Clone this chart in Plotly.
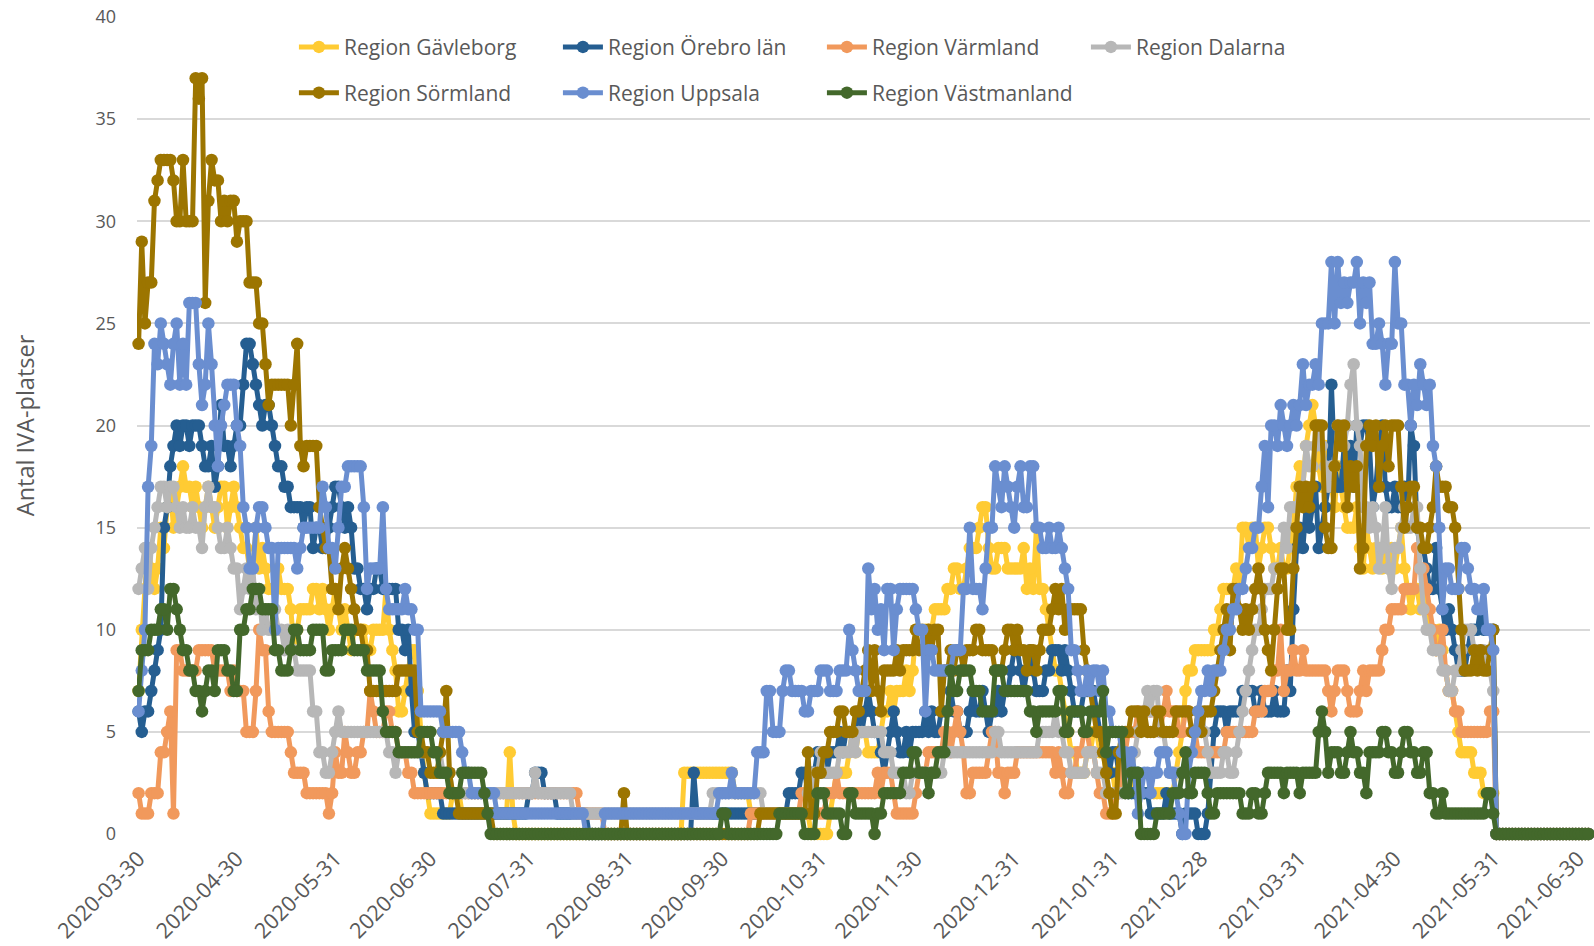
import plotly.graph_objects as go
import pandas as pd

start_date = "2020-03-30"

tick_dates = ["2020-03-30", "2020-04-30", "2020-05-31", "2020-06-30", "2020-07-31",
              "2020-08-31", "2020-09-30", "2020-10-31", "2020-11-30", "2020-12-31",
              "2021-01-31", "2021-02-28", "2021-03-31", "2021-04-30", "2021-05-31",
              "2021-06-30"]
y_ticks = [0, 5, 10, 15, 20, 25, 30, 35, 40]

series_names = ["Region Gävleborg", "Region Örebro län", "Region Värmland", "Region Dalarna",
                "Region Sörmland", "Region Uppsala", "Region Västmanland"]

# daily values from 2020-03-30 (one line per month)
gavleborg = [
    7, 10,
    12, 14, 13, 12, 13, 15, 14, 16, 17, 15, 16, 17, 18, 17, 17, 16, 17, 16, 15, 16, 17, 16, 15, 16, 17, 17, 15, 16, 17, 16,
    15, 14, 14, 13, 13, 15, 13, 14, 13, 12, 12, 12, 13, 12, 12, 12, 11, 9, 10, 11, 11, 11, 11, 12, 12, 11, 12, 11, 10, 11, 12,
    11, 10, 11, 10, 9, 10, 10, 10, 10, 9, 9, 10, 10, 10, 10, 12, 10, 9, 8, 6, 6, 7, 8, 9, 9, 7, 5, 3, 2, 1,
    1, 1, 1, 1, 1, 1, 2, 2, 2, 1, 1, 1, 1, 1, 1, 1, 1, 1, 1, 1, 1, 1, 1, 1, 4, 1, 0, 0, 0, 0, 0,
    0, 0, 0, 0, 0, 0, 0, 0, 0, 0, 0, 0, 0, 0, 0, 0, 0, 0, 0, 0, 0, 0, 0, 0, 0, 0, 0, 0, 0, 0, 0,
    0, 0, 0, 0, 0, 0, 0, 0, 0, 0, 0, 0, 0, 0, 0, 0, 0, 3, 3, 3, 3, 3, 3, 3, 3, 3, 3, 3, 3, 3,
    3, 3, 3, 2, 2, 2, 2, 2, 1, 1, 1, 1, 1, 1, 1, 1, 1, 1, 1, 1, 1, 1, 1, 1, 1, 1, 1, 0, 0, 0, 0,
    0, 0, 1, 2, 3, 3, 3, 3, 4, 5, 4, 5, 5, 5, 4, 4, 4, 4, 5, 6, 6, 7, 6, 7, 7, 7, 8, 7, 8, 10,
    10, 10, 10, 10, 10, 11, 11, 11, 11, 12, 12, 13, 13, 12, 12, 13, 14, 14, 14, 15, 16, 16, 14, 13, 13, 14, 14, 14, 13, 13, 13,
    13, 13, 14, 12, 13, 12, 15, 12, 12, 11, 10, 9, 8, 8, 7, 6, 5, 4, 4, 3, 3, 3, 4, 4, 5, 5, 4, 4, 3, 3, 3,
    2, 2, 3, 3, 3, 3, 2, 2, 2, 2, 2, 2, 2, 2, 2, 2, 2, 2, 2, 3, 4, 5, 7, 8, 8, 9, 9, 9,
    9, 9, 9, 10, 10, 11, 12, 12, 12, 12, 13, 12, 15, 15, 14, 15, 15, 13, 14, 15, 15, 14, 13, 13, 14, 13, 13, 14, 15, 17, 18,
    17, 19, 20, 21, 20, 18, 17, 19, 18, 17, 16, 18, 17, 16, 15, 15, 15, 16, 14, 13, 15, 14, 13, 14, 14, 13, 14, 13, 14, 13,
    14, 15, 13, 12, 11, 12, 12, 11, 12, 11, 10, 10, 9, 10, 9, 8, 7, 7, 6, 5, 4, 4, 4, 4, 3, 3, 3, 2, 2, 2, 2,
    0, 0, 0, 0, 0, 0, 0, 0, 0, 0, 0, 0, 0, 0, 0, 0, 0, 0, 0, 0, 0, 0, 0, 0, 0, 0, 0, 0, 0, 0,
]

orebro = [
    6, 5,
    6, 6, 7, 8, 9, 10, 15, 16, 18, 19, 20, 19, 20, 20, 19, 20, 20, 20, 19, 18, 18, 19, 17, 18, 21, 19, 19, 18, 19, 20,
    20, 22, 24, 24, 23, 22, 21, 20, 21, 21, 20, 19, 18, 18, 17, 17, 16, 16, 16, 16, 15, 16, 16, 14, 15, 15, 14, 14, 15, 16, 17,
    17, 16, 15, 16, 15, 13, 13, 12, 12, 11, 12, 12, 13, 13, 12, 12, 12, 12, 12, 10, 10, 9, 10, 7, 5, 5, 4, 3, 2, 2,
    2, 2, 2, 1, 1, 1, 1, 1, 1, 1, 1, 1, 1, 1, 1, 1, 1, 1, 1, 1, 1, 1, 1, 1, 1, 1, 1, 1, 1, 1, 2,
    2, 3, 3, 3, 2, 2, 2, 2, 1, 1, 1, 1, 1, 1, 1, 1, 1, 1, 0, 0, 0, 0, 0, 0, 0, 0, 0, 0, 0, 0, 0,
    0, 0, 0, 0, 0, 0, 0, 0, 0, 0, 0, 0, 0, 0, 0, 0, 0, 0, 0, 0, 3, 1, 1, 1, 1, 1, 1, 1, 1, 1,
    1, 1, 1, 1, 1, 1, 1, 1, 1, 1, 1, 1, 1, 1, 1, 1, 1, 1, 1, 1, 2, 2, 2, 2, 3, 3, 2, 3, 3, 4, 3,
    4, 3, 4, 4, 4, 5, 4, 5, 5, 5, 5, 6, 5, 6, 7, 6, 5, 5, 4, 3, 4, 5, 6, 5, 4, 4, 5, 4, 5, 5,
    5, 5, 6, 5, 6, 5, 5, 6, 6, 6, 7, 6, 6, 5, 5, 5, 6, 7, 6, 6, 7, 6, 5, 6, 6, 7, 6, 7, 7, 8, 9,
    9, 8, 7, 8, 9, 8, 7, 7, 7, 8, 8, 9, 9, 9, 8, 9, 8, 7, 6, 6, 6, 7, 7, 7, 7, 6, 5, 4, 4, 3, 4,
    4, 3, 3, 3, 2, 2, 2, 3, 2, 2, 2, 1, 1, 1, 1, 1, 2, 1, 1, 1, 1, 0, 1, 1, 1, 1, 0, 0,
    0, 1, 3, 5, 6, 6, 6, 5, 6, 6, 6, 6, 7, 7, 7, 7, 6, 6, 7, 6, 6, 6, 7, 6, 6, 6, 8, 7, 11, 14, 15,
    14, 16, 15, 16, 17, 14, 15, 16, 17, 22, 18, 17, 17, 19, 18, 19, 17, 20, 19, 20, 20, 19, 16, 17, 19, 20, 17, 16, 16, 17,
    16, 16, 17, 16, 20, 19, 15, 14, 14, 13, 12, 12, 14, 12, 11, 10, 11, 10, 9, 8, 8, 8, 9, 10, 10, 10, 11, 10, 10, 10, 10,
    0, 0, 0, 0, 0, 0, 0, 0, 0, 0, 0, 0, 0, 0, 0, 0, 0, 0, 0, 0, 0, 0, 0, 0, 0, 0, 0, 0, 0, 0,
]

varmland = [
    2, 1,
    1, 1, 2, 2, 2, 4, 4, 5, 6, 1, 9, 9, 8, 8, 8, 8, 8, 9, 9, 9, 9, 9, 8, 8, 8, 8, 8, 7, 8, 7,
    7, 7, 5, 5, 5, 7, 10, 9, 9, 6, 5, 5, 5, 5, 5, 5, 4, 3, 3, 3, 3, 2, 2, 2, 2, 2, 2, 2, 1, 2, 4,
    3, 3, 5, 4, 3, 3, 4, 4, 5, 5, 7, 6, 5, 5, 5, 6, 6, 5, 5, 4, 4, 4, 3, 3, 2, 2, 2, 2, 2, 2,
    2, 2, 2, 2, 2, 2, 2, 2, 2, 2, 2, 2, 2, 2, 2, 2, 2, 2, 2, 2, 2, 2, 2, 2, 2, 2, 2, 2, 2, 2, 2,
    2, 2, 2, 2, 2, 2, 2, 2, 2, 2, 2, 2, 2, 2, 2, 1, 1, 1, 1, 1, 1, 1, 1, 0, 0, 0, 0, 0, 0, 0, 0,
    0, 0, 0, 0, 0, 0, 0, 0, 0, 0, 0, 0, 0, 0, 0, 0, 0, 0, 0, 0, 0, 0, 0, 0, 0, 0, 0, 0, 0, 0,
    0, 0, 0, 0, 0, 0, 0, 0, 1, 1, 1, 1, 1, 1, 1, 1, 1, 1, 1, 1, 1, 1, 1, 1, 2, 2, 1, 1, 1, 1, 1,
    1, 2, 2, 2, 3, 2, 2, 2, 2, 2, 2, 2, 2, 2, 2, 2, 2, 3, 2, 3, 3, 3, 2, 1, 1, 1, 1, 1, 1, 2,
    3, 3, 3, 4, 4, 4, 4, 4, 5, 5, 4, 5, 6, 5, 4, 2, 2, 3, 3, 3, 3, 3, 4, 5, 5, 3, 3, 2, 3, 3, 3,
    4, 4, 4, 4, 4, 4, 4, 4, 4, 4, 4, 4, 3, 4, 3, 2, 2, 3, 3, 4, 4, 5, 5, 4, 4, 3, 2, 2, 1, 1, 1,
    2, 2, 4, 4, 5, 5, 5, 6, 6, 6, 6, 6, 6, 6, 5, 6, 7, 6, 6, 6, 5, 5, 6, 6, 5, 5, 4, 4,
    4, 4, 4, 4, 4, 4, 4, 5, 5, 5, 5, 5, 5, 5, 5, 5, 6, 6, 6, 7, 7, 7, 8, 8, 10, 7, 8, 8, 9, 8, 8,
    9, 8, 8, 8, 8, 8, 8, 8, 7, 6, 7, 8, 8, 8, 7, 6, 6, 6, 7, 8, 7, 8, 8, 8, 8, 9, 10, 10, 11, 11,
    11, 11, 12, 12, 12, 12, 14, 13, 13, 12, 11, 10, 9, 9, 10, 8, 7, 7, 6, 6, 5, 5, 5, 5, 5, 5, 5, 5, 5, 6, 6,
    0, 0, 0, 0, 0, 0, 0, 0, 0, 0, 0, 0, 0, 0, 0, 0, 0, 0, 0, 0, 0, 0, 0, 0, 0, 0, 0, 0, 0, 0,
]

dalarna = [
    12, 13,
    14, 12, 14, 15, 16, 17, 17, 16, 17, 17, 16, 15, 16, 15, 15, 16, 15, 15, 14, 16, 17, 16, 16, 15, 14, 14, 15, 14, 13, 13,
    11, 12, 13, 12, 13, 11, 12, 10, 11, 10, 10, 11, 10, 10, 9, 10, 9, 9, 8, 8, 8, 8, 8, 6, 6, 4, 4, 3, 3, 4, 5,
    6, 5, 5, 5, 5, 5, 5, 5, 5, 5, 5, 5, 5, 5, 5, 5, 4, 4, 3, 4, 4, 4, 4, 4, 4, 4, 4, 4, 4, 4,
    4, 4, 4, 3, 3, 3, 2, 2, 2, 2, 2, 2, 2, 2, 2, 2, 2, 2, 2, 2, 2, 2, 2, 2, 2, 2, 2, 2, 2, 2, 2,
    2, 3, 2, 2, 2, 2, 2, 2, 2, 2, 2, 2, 2, 1, 1, 1, 1, 1, 1, 1, 1, 1, 1, 1, 1, 1, 1, 1, 1, 1, 1,
    1, 1, 1, 1, 1, 1, 1, 1, 1, 1, 1, 1, 1, 1, 1, 1, 1, 1, 1, 1, 1, 1, 1, 1, 1, 1, 2, 2, 2, 2,
    2, 2, 2, 2, 2, 2, 2, 2, 2, 2, 2, 2, 1, 1, 1, 1, 1, 1, 1, 1, 1, 1, 1, 1, 1, 1, 2, 2, 3, 3, 4,
    3, 3, 3, 3, 3, 4, 4, 4, 4, 5, 4, 5, 5, 5, 5, 5, 5, 5, 5, 4, 4, 4, 3, 3, 3, 3, 2, 2, 3, 3,
    3, 3, 3, 3, 3, 3, 3, 3, 4, 4, 4, 4, 4, 4, 4, 4, 4, 4, 4, 4, 4, 4, 4, 4, 5, 5, 4, 4, 4, 4, 4,
    4, 4, 4, 4, 4, 4, 4, 5, 5, 5, 5, 5, 6, 5, 5, 4, 4, 3, 3, 3, 3, 3, 4, 4, 4, 3, 3, 3, 2, 2, 2,
    2, 2, 2, 2, 3, 3, 4, 5, 6, 6, 7, 6, 7, 7, 5, 5, 4, 3, 3, 3, 3, 3, 3, 4, 4, 5, 5, 6,
    5, 4, 3, 3, 3, 3, 4, 4, 3, 3, 4, 5, 6, 7, 8, 9, 10, 10, 11, 12, 12, 12, 13, 13, 13, 15, 14, 16, 16, 16, 17,
    17, 19, 18, 18, 19, 20, 19, 18, 17, 18, 18, 20, 20, 19, 20, 22, 23, 20, 19, 16, 16, 15, 16, 15, 13, 14, 16, 13, 12, 14,
    14, 15, 16, 15, 15, 16, 16, 13, 11, 10, 10, 9, 9, 9, 8, 8, 7, 7, 8, 8, 9, 10, 10, 10, 9, 9, 9, 9, 8, 8, 7,
    0, 0, 0, 0, 0, 0, 0, 0, 0, 0, 0, 0, 0, 0, 0, 0, 0, 0, 0, 0, 0, 0, 0, 0, 0, 0, 0, 0, 0, 0,
]

sormland = [
    24, 29,
    25, 27, 27, 31, 32, 33, 33, 33, 33, 32, 30, 30, 33, 30, 30, 30, 37, 36, 37, 26, 31, 33, 32, 32, 30, 31, 30, 31, 31, 29,
    30, 30, 30, 27, 27, 27, 25, 25, 23, 21, 22, 22, 22, 22, 22, 22, 20, 22, 24, 19, 18, 19, 19, 19, 19, 16, 15, 14, 14, 12, 12,
    11, 13, 14, 13, 12, 11, 10, 10, 9, 9, 7, 7, 7, 7, 7, 7, 7, 7, 7, 8, 8, 8, 8, 8, 8, 5, 5, 4, 4, 3,
    3, 3, 4, 5, 7, 3, 2, 2, 1, 1, 1, 1, 1, 1, 1, 1, 1, 1, 1, 0, 0, 0, 0, 0, 0, 0, 0, 0, 0, 0, 0,
    0, 0, 0, 0, 0, 0, 0, 0, 0, 0, 0, 0, 0, 0, 0, 0, 0, 0, 0, 0, 0, 0, 0, 0, 0, 0, 0, 0, 0, 2, 0,
    0, 0, 0, 0, 0, 0, 0, 0, 0, 0, 0, 0, 0, 0, 0, 0, 0, 0, 0, 0, 0, 0, 0, 0, 0, 0, 0, 0, 0, 0,
    0, 0, 0, 0, 0, 0, 0, 0, 0, 0, 0, 1, 1, 1, 1, 1, 1, 1, 1, 1, 1, 1, 1, 1, 1, 1, 4, 1, 1, 3, 3,
    4, 4, 5, 5, 5, 6, 6, 5, 5, 5, 6, 6, 7, 8, 9, 7, 9, 7, 6, 8, 8, 8, 8, 9, 8, 9, 9, 9, 9, 10,
    9, 9, 9, 10, 9, 10, 10, 6, 8, 8, 9, 8, 9, 9, 8, 9, 9, 9, 10, 10, 9, 9, 9, 9, 8, 8, 8, 9, 10, 10, 9,
    10, 9, 9, 8, 9, 9, 8, 9, 10, 10, 10, 11, 12, 11, 12, 10, 11, 11, 11, 11, 11, 9, 8, 7, 6, 5, 5, 4, 3, 2, 1,
    1, 4, 5, 5, 5, 6, 6, 6, 5, 6, 5, 5, 5, 6, 6, 5, 5, 5, 5, 6, 6, 6, 6, 6, 5, 5, 6, 5,
    6, 6, 6, 7, 8, 9, 10, 11, 9, 12, 12, 11, 10, 11, 10, 11, 12, 13, 12, 10, 9, 8, 10, 12, 13, 13, 10, 10, 13, 15, 17,
    16, 17, 16, 17, 20, 20, 20, 15, 14, 14, 18, 20, 19, 20, 16, 18, 17, 18, 13, 14, 19, 20, 19, 20, 17, 19, 20, 18, 20, 20,
    20, 17, 15, 16, 17, 17, 15, 15, 14, 14, 15, 16, 18, 17, 17, 17, 16, 16, 15, 12, 10, 8, 8, 8, 9, 8, 9, 8, 8, 9, 10,
    0, 0, 0, 0, 0, 0, 0, 0, 0, 0, 0, 0, 0, 0, 0, 0, 0, 0, 0, 0, 0, 0, 0, 0, 0, 0, 0, 0, 0, 0,
]

uppsala = [
    6, 8,
    10, 17, 19, 24, 23, 25, 24, 23, 22, 24, 25, 22, 24, 22, 26, 26, 26, 23, 21, 22, 25, 23, 20, 18, 20, 21, 22, 22, 22, 20,
    19, 16, 15, 13, 13, 15, 16, 16, 15, 14, 14, 10, 14, 14, 14, 14, 14, 14, 13, 14, 15, 15, 15, 15, 15, 15, 17, 16, 14, 14, 13,
    15, 17, 17, 18, 18, 18, 18, 18, 16, 12, 13, 13, 13, 13, 16, 12, 11, 11, 11, 11, 11, 12, 11, 11, 10, 10, 6, 6, 6, 6,
    6, 6, 6, 5, 5, 5, 5, 5, 5, 4, 3, 3, 2, 2, 2, 2, 2, 2, 2, 2, 1, 1, 1, 1, 1, 1, 1, 1, 1, 1, 1,
    1, 1, 1, 1, 1, 1, 1, 1, 1, 1, 1, 1, 1, 1, 1, 1, 1, 0, 0, 0, 0, 0, 0, 1, 1, 1, 1, 1, 1, 1, 1,
    1, 1, 1, 1, 1, 1, 1, 1, 1, 1, 1, 1, 1, 1, 1, 1, 1, 1, 1, 1, 1, 1, 1, 1, 1, 1, 1, 1, 2, 2,
    2, 2, 3, 2, 2, 2, 2, 2, 2, 2, 4, 4, 4, 7, 7, 5, 5, 5, 7, 8, 8, 7, 7, 7, 7, 6, 6, 7, 7, 7, 8,
    8, 8, 7, 7, 7, 8, 8, 8, 10, 9, 8, 7, 7, 7, 13, 11, 12, 10, 11, 9, 12, 12, 9, 11, 12, 12, 12, 12, 12, 11,
    10, 10, 6, 9, 9, 8, 8, 8, 8, 8, 8, 9, 9, 9, 12, 12, 15, 12, 12, 12, 11, 13, 15, 15, 18, 17, 16, 18, 17, 16, 15,
    17, 18, 16, 16, 18, 18, 15, 15, 14, 14, 15, 14, 14, 15, 14, 13, 12, 9, 9, 8, 7, 7, 8, 7, 8, 8, 7, 8, 6, 6, 5,
    5, 5, 4, 4, 3, 4, 3, 1, 2, 3, 3, 2, 3, 3, 4, 4, 4, 3, 3, 2, 1, 0, 0, 3, 4, 5, 6, 7,
    7, 8, 7, 8, 8, 8, 9, 10, 10, 11, 11, 12, 12, 13, 14, 14, 15, 15, 17, 19, 16, 20, 20, 19, 21, 20, 19, 20, 21, 20, 21,
    23, 21, 22, 22, 23, 22, 25, 25, 25, 28, 25, 28, 26, 27, 26, 27, 27, 28, 25, 27, 26, 27, 24, 24, 25, 24, 22, 24, 24, 28,
    25, 25, 22, 22, 20, 22, 21, 23, 22, 21, 22, 19, 18, 15, 11, 13, 13, 12, 12, 12, 14, 14, 13, 12, 12, 11, 11, 12, 10, 10, 9,
    0, 0, 0, 0, 0, 0, 0, 0, 0, 0, 0, 0, 0, 0, 0, 0, 0, 0, 0, 0, 0, 0, 0, 0, 0, 0, 0, 0, 0, 0,
]

vastmanland = [
    7, 9,
    9, 9, 10, 10, 10, 11, 11, 10, 12, 12, 11, 10, 9, 9, 8, 8, 7, 7, 6, 7, 8, 8, 7, 9, 9, 9, 8, 8, 7, 7,
    10, 10, 11, 11, 12, 12, 12, 11, 11, 11, 11, 9, 9, 8, 8, 8, 9, 10, 10, 9, 9, 9, 9, 10, 10, 10, 10, 8, 8, 9, 9,
    9, 9, 10, 10, 10, 9, 9, 9, 9, 8, 8, 8, 8, 8, 6, 5, 5, 5, 5, 4, 4, 4, 4, 4, 4, 4, 5, 5, 5, 5,
    4, 4, 3, 3, 3, 2, 2, 2, 2, 3, 3, 3, 3, 3, 3, 3, 2, 1, 0, 0, 0, 0, 0, 0, 0, 0, 0, 0, 0, 0, 0,
    0, 0, 0, 0, 0, 0, 0, 0, 0, 0, 0, 0, 0, 0, 0, 0, 0, 0, 0, 0, 0, 0, 0, 0, 0, 0, 0, 0, 0, 0, 0,
    0, 0, 0, 0, 0, 0, 0, 0, 0, 0, 0, 0, 0, 0, 0, 0, 0, 0, 0, 0, 0, 0, 0, 0, 0, 0, 0, 0, 0, 1,
    1, 0, 0, 0, 0, 0, 0, 0, 0, 0, 0, 0, 0, 0, 0, 0, 0, 1, 1, 1, 1, 1, 1, 1, 1, 0, 0, 0, 0, 2, 2,
    2, 1, 1, 1, 1, 1, 0, 0, 2, 2, 1, 1, 1, 1, 1, 1, 0, 1, 1, 2, 2, 2, 2, 2, 2, 3, 3, 3, 4, 4,
    3, 3, 3, 2, 3, 3, 4, 4, 4, 6, 8, 7, 7, 8, 8, 8, 8, 7, 7, 7, 6, 6, 6, 6, 8, 8, 8, 7, 7, 7, 7,
    7, 7, 7, 7, 6, 6, 5, 6, 6, 6, 6, 6, 6, 7, 7, 5, 5, 6, 6, 6, 6, 5, 5, 6, 6, 6, 6, 7, 4, 5, 5,
    5, 5, 5, 2, 2, 3, 3, 3, 0, 0, 0, 0, 0, 1, 1, 1, 1, 1, 2, 2, 2, 3, 4, 2, 2, 3, 3, 3,
    3, 2, 1, 1, 2, 2, 2, 2, 2, 2, 2, 2, 1, 1, 1, 2, 2, 1, 1, 2, 3, 3, 3, 3, 3, 2, 3, 3, 3, 3, 2,
    3, 3, 3, 3, 3, 5, 6, 5, 3, 4, 4, 4, 3, 3, 4, 5, 4, 4, 3, 3, 2, 4, 4, 4, 4, 5, 5, 4, 4, 3,
    3, 4, 5, 5, 4, 4, 3, 3, 4, 4, 2, 2, 1, 1, 2, 1, 1, 1, 1, 1, 1, 1, 1, 1, 1, 1, 1, 1, 2, 2, 1,
    0, 0, 0, 0, 0, 0, 0, 0, 0, 0, 0, 0, 0, 0, 0, 0, 0, 0, 0, 0, 0, 0, 0, 0, 0, 0, 0, 0, 0, 0,
]

series_values = [gavleborg, orebro, varmland, dalarna, sormland, uppsala, vastmanland]

colors = ["#FFCB33", "#255E91", "#F1995C", "#B7B7B7", "#9C7500", "#6A8ED0", "#43682B"]
legend_ids = ["legend", "legend", "legend", "legend", "legend2", "legend2", "legend2"]

fig = go.Figure()
for name, vals, col, lg in zip(series_names, series_values, colors, legend_ids):
    dates = pd.date_range(start_date, periods=len(vals), freq="D")
    fig.add_trace(go.Scatter(
        x=dates, y=vals, name=name, mode="lines+markers",
        line=dict(color=col, width=5),
        marker=dict(color=col, size=12.5),
        cliponaxis=False, legend=lg,
    ))

FONT = "Open Sans, Arial, sans-serif"
TXT = "#595959"

# label positions: the last one is nudged inward a little (as in the original) so it fits the page
tick_pos = [pd.Timestamp(d) for d in tick_dates]
tick_pos[-1] = tick_pos[-1] - pd.Timedelta(hours=78)

legend_style = dict(orientation="h", x=0.108, xanchor="left", yanchor="middle",
                    font=dict(size=21, color=TXT, family=FONT), entrywidth=209,
                    entrywidthmode="pixels", bgcolor="rgba(0,0,0,0)", itemwidth=40)

fig.update_layout(
    width=1594, height=946,
    margin=dict(l=137, r=4, t=17, b=112, autoexpand=False),
    paper_bgcolor="white", plot_bgcolor="white",
    font=dict(family=FONT, color=TXT, size=18),
    showlegend=True,
    legend=dict(y=0.963, **legend_style),
    legend2=dict(y=0.907, **legend_style),
)

fig.update_xaxes(
    type="date",
    range=["2020-03-29 12:00", "2021-06-30 12:00"],
    tickvals=tick_pos, ticktext=tick_dates,
    tickangle=-45, tickfont=dict(size=21.5, color=TXT, family=FONT),
    showgrid=False, zeroline=False, showline=False, ticks="",
    ticklabelstandoff=7, ticklabeloverflow="allow", automargin=False,
)
fig.update_yaxes(
    range=[0, 40], tickvals=y_ticks,
    showgrid=True, gridcolor="#D9D9D9", gridwidth=1.6,
    zeroline=False, showline=False, ticks="",
    tickfont=dict(size=18, color=TXT, family=FONT),
    ticklabelstandoff=20, automargin=False,
    title=dict(text="Antal IVA-platser", font=dict(size=23.5, color=TXT, family=FONT), standoff=54),
)

fig.write_html("out.html", config={"displayModeBar": False},
               post_script="document.body.style.margin='0';document.body.style.overflow='hidden';")
